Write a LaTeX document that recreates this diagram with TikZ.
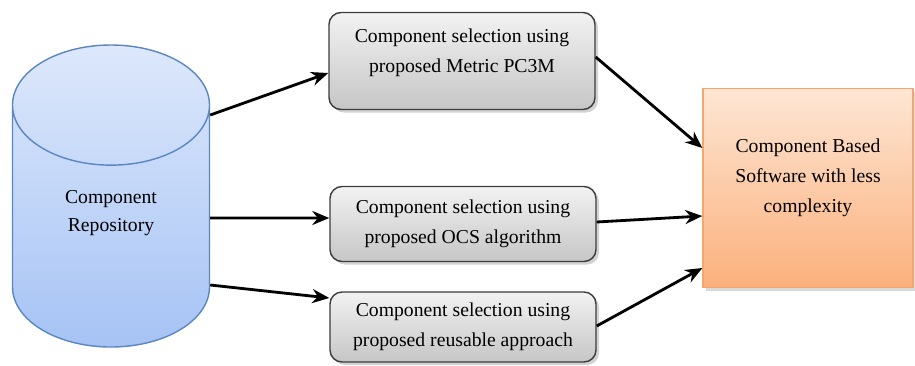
\documentclass[tikz,border=0pt]{standalone}
\usepackage{fontspec}
\setmainfont{Liberation Serif}
\usepackage{tikz}
\usetikzlibrary{shapes.geometric,arrows.meta,shadows}
\definecolor{repoline}{HTML}{5A86C4}
\definecolor{repotop}{HTML}{DDE8FB}
\definecolor{repobot}{HTML}{A6C3F5}
\definecolor{boxline}{HTML}{3C3C3C}
\definecolor{boxtop}{HTML}{F2F2F2}
\definecolor{boxbot}{HTML}{C6C6C6}
\definecolor{cbline}{HTML}{F5A66C}
\definecolor{cbtop}{HTML}{FDE6D4}
\definecolor{cbbot}{HTML}{FBB07C}

\begin{document}
\begin{tikzpicture}[x=0.2mm,y=-0.2mm,
	txt/.style={align=center, font=\fontsize{11.2}{17}\selectfont},
	selbox/.style={txt, draw=boxline, line width=0.8pt, rounded corners=2.4mm, top color=boxtop, bottom color=boxbot, minimum width=53.2mm, drop shadow={opacity=0.35, shadow xshift=0.6mm, shadow yshift=-0.6mm}},
	link/.style={-{Stealth[length=3.4mm,width=2.8mm]}, line width=1.6pt}]
	\useasboundingbox (0,0) rectangle (915,365);

	% store of components
	\node [txt, cylinder, shape border rotate=90, aspect=1.16, draw=repoline, line width=0.8pt, top color=repotop, bottom color=repobot, minimum width=39.4mm, minimum height=60.4mm, text depth=10.4mm, anchor=shape center, font=\fontsize{11.2}{16}\selectfont] (repo) at (111,196) {Component\\Repository};

	% three ways of selecting
	\node [selbox, minimum height=19.4mm, text depth=4.05mm] (m1) at (462,61) {Component selection using\\proposed Metric PC3M};
	\node [selbox, minimum height=15mm] (m2) at (463,224) {Component selection using\\proposed OCS algorithm};
	\node [selbox, minimum height=14mm] (m3) at (463,327) {Component selection using\\proposed reusable approach};

	% result
	\node [txt, draw=cbline, line width=0.8pt, top color=cbtop, bottom color=cbbot, minimum width=42mm, minimum height=39.8mm, text depth=4.85mm, drop shadow={opacity=0.3, shadow xshift=0.6mm, shadow yshift=-0.6mm}] (cb) at (808,188) {Component Based\\Software with less\\complexity};

	\draw [link] ([yshift=16.2mm]repo.shape center -| repo.east) -- ([yshift=-2.4mm]m1.west);
	\draw [link] ([yshift=-4.4mm]repo.shape center -| repo.east) -- ([yshift=1.2mm]m2.west);
	\draw [link] ([yshift=-17.8mm]repo.shape center -| repo.east) -- ([yshift=5.8mm]m3.west);

	\draw [link] ([yshift=0.8mm]m1.east) -- ([yshift=8mm]cb.west);
	\draw [link] ([yshift=0.4mm]m2.east) -- ([yshift=-5.6mm]cb.west);
	\draw [link] ([yshift=0.2mm]m3.east) -- ([yshift=-16mm]cb.west);
\end{tikzpicture}
\end{document}
